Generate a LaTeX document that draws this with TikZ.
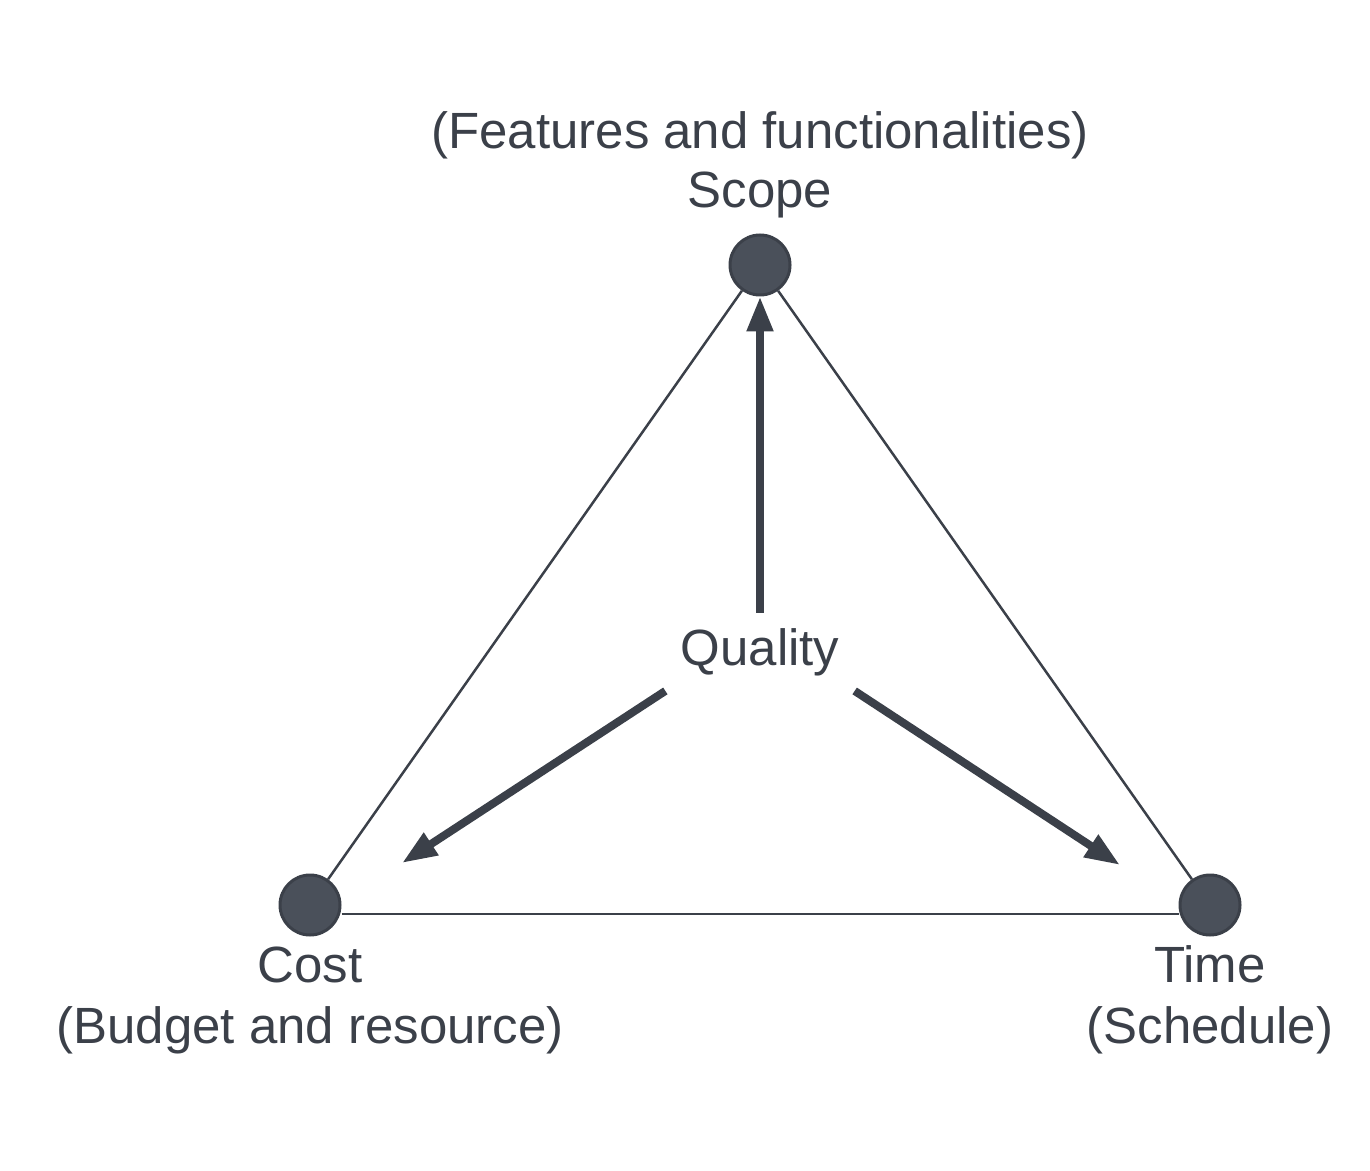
\documentclass[tikz,border=0pt]{standalone}
\usepackage{xcolor}
\usepackage{tikz}
\usepackage{fontspec}
\setmainfont{Liberation Sans}
\usetikzlibrary{positioning,calc,arrows.meta}
\definecolor{ink}{HTML}{3B4049}
\definecolor{dotfill}{HTML}{4A505A}

\begin{document}
\begin{tikzpicture}[
    vertex/.style={circle, draw=ink, fill=dotfill, line width=0.06cm, minimum size=1.2cm, inner sep=0pt},
    lbl/.style={text=ink, font=\fontsize{29}{34}\selectfont, anchor=base, inner sep=0pt},
    side/.style={draw=ink, line width=0.05cm},
    push/.style={draw=ink, line width=0.16cm, -{Triangle[length=0.7cm, width=0.5cm]}}
]
    \useasboundingbox (0,0) rectangle (27.4,-23.42);

    % Corners
    \node[vertex] (scope) at (15.2,-5.3) {};
    \node[vertex] (cost) at (6.2,-18.1) {};
    \node[vertex] (time) at (24.2,-18.1) {};

    % Labels
    \node[lbl] (scopetxt) at (15.2,-4.16) {Scope};
    \node[lbl] (scopesub) at (15.2,-2.98) {(Features and functionalities)};
    \node[lbl] (costtxt) at (6.2,-19.64) {Cost};
    \node[lbl] (costsub) at (6.2,-20.86) {(Budget and resource)};
    \node[lbl] (timetxt) at (24.2,-19.64) {Time};
    \node[lbl] (timesub) at (24.2,-20.86) {(Schedule)};
    \node[lbl, inner sep=0.3cm] (quality) at (15.2,-13.3) {Quality};

    % Triangle
    \draw[side] (scope) -- (cost);
    \draw[side] (scope) -- (time);
    \draw[side] ([yshift=-0.18cm]cost.east) -- ([yshift=-0.18cm]time.west);

    % Quality arrows
    \coordinate (costtip) at (8.04,-17.26);
    \coordinate (timetip) at (22.4,-17.3);
    \draw[push] (quality.north) -- (scope);
    \draw[push] (quality.south west) -- (costtip);
    \draw[push] (quality.south east) -- (timetip);
\end{tikzpicture}
\end{document}
